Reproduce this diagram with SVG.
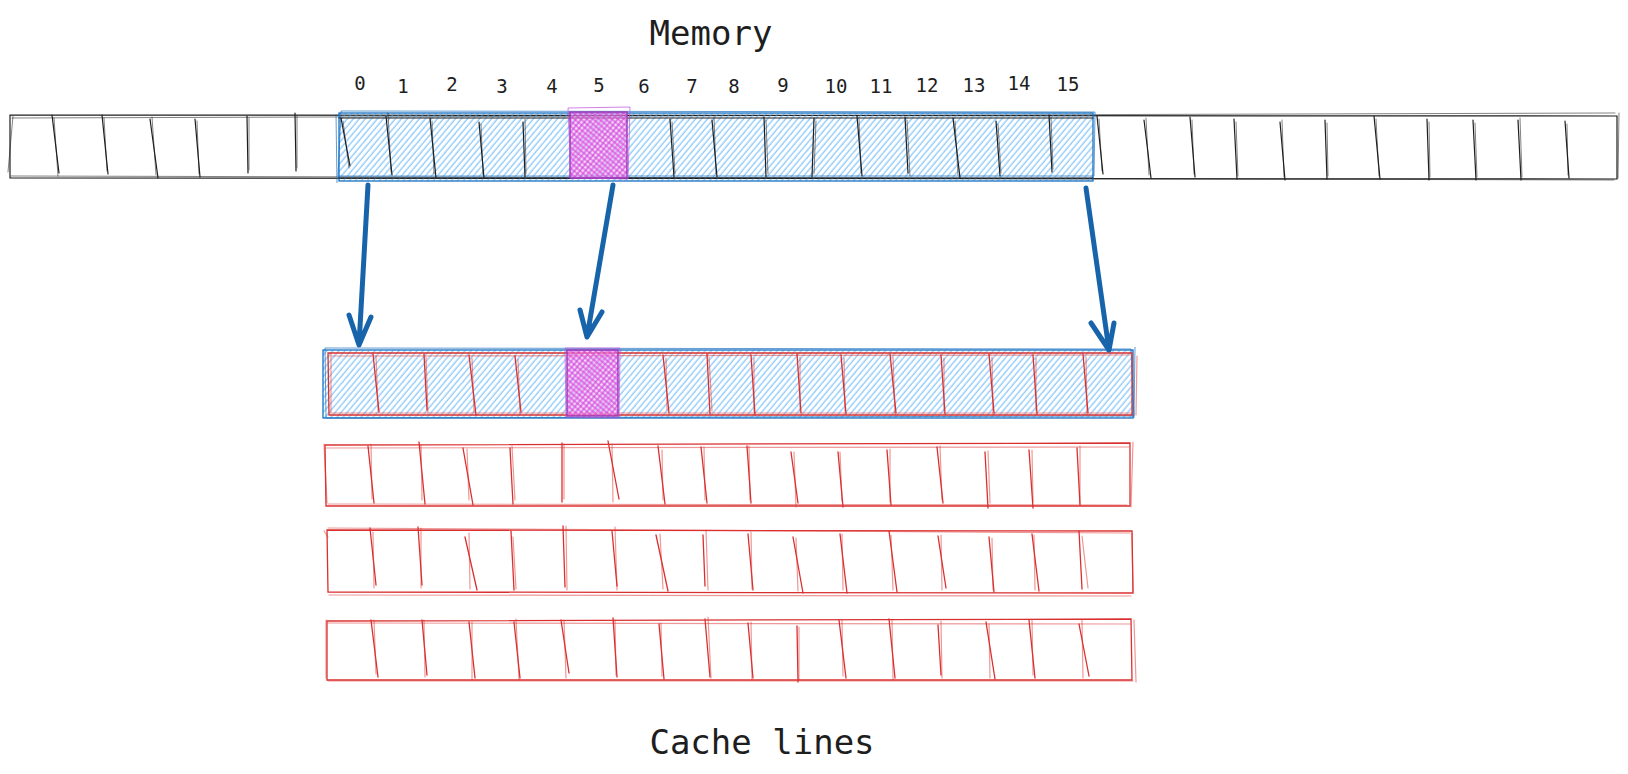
<svg xmlns="http://www.w3.org/2000/svg" width="1628" height="774" viewBox="0 0 1628 774">
<style>
.title{font-family:"DejaVu Sans Mono","Liberation Mono",monospace;font-size:34px;fill:#1e1e1e;text-anchor:middle}
.idx{font-family:"DejaVu Sans Mono","Liberation Mono",monospace;font-size:19px;fill:#1e1e1e;text-anchor:middle}
.blk{fill:none;stroke:#1e1e1e;stroke-width:1.2;stroke-linecap:round}
.blk2{fill:none;stroke:#1e1e1e;stroke-width:1;stroke-opacity:0.55;stroke-linecap:round}
.red{fill:none;stroke:#d9302f;stroke-width:1.3;stroke-linecap:round}
.red2{fill:none;stroke:#e03131;stroke-width:1.2;stroke-opacity:0.5;stroke-linecap:round}
.blue{fill:url(#hb);stroke:#1971c2;stroke-width:1.3}
.blue2{fill:none;stroke:#1971c2;stroke-width:1;stroke-opacity:0.7}
.mag{fill:url(#hm);stroke:#9c36b5;stroke-width:1.4}
.mag2{fill:none;stroke:#be4bdb;stroke-width:1;stroke-opacity:0.7}
.arrow{fill:none;stroke:#1864ab;stroke-width:5;stroke-linecap:round;stroke-linejoin:round}
</style>
<defs>
<pattern id="hb" width="4.6" height="12" patternUnits="userSpaceOnUse" patternTransform="rotate(40)">
<line x1="2" y1="0" x2="2" y2="12" stroke="#4dabf7" stroke-width="1" stroke-opacity="0.85"/>
</pattern>
<pattern id="hm" width="4" height="4" patternUnits="userSpaceOnUse" patternTransform="rotate(40)">
<rect width="4" height="4" fill="#f3b8f3" fill-opacity="0.5"/>
<line x1="2" y1="0" x2="2" y2="4" stroke="#e040e0" stroke-width="1"/>
<line x1="0" y1="2" x2="4" y2="2" stroke="#d63ad6" stroke-width="1"/>
</pattern>
</defs>
<rect width="1628" height="774" fill="#ffffff"/>

<g id="title-memory"><text class="title" x="711" y="45">Memory</text></g>
<g id="title-cache"><text class="title" x="762" y="754">Cache lines</text></g>

<g id="memory-strip">
<path class="blk" d="M10 115 L1617 116 L1617 179 L10 178 Z"/>
<path class="blk2" d="M12 118 L1615 113 M8 172 L13 116 M11 176 L1614 180 M1619 113 L1618 178"/>
<path class="blk" d="M52 115L59 173M102 115L108 174M150 119L158 178M195 119L200 177M247 116L248 173M295 113L296 171"/>
<path class="blk2" d="M54 118L58 176M104 118L107 171M152 117L156 175M197 121L199 174M249 118L249 170M297 116L297 168"/>
<path class="blk" d="M1144 120L1151 178M1190 117L1195 177M1234 119L1237 179M1280 122L1285 180M1325 120L1327 179M1374 116L1380 179M1427 119L1429 180M1473 120L1476 180M1518 120L1521 180M1565 121L1569 178"/>
<path class="blk2" d="M1146 118L1149 175M1192 120L1194 174M1236 122L1238 176M1282 120L1284 177M1327 123L1328 176M1376 119L1379 176M1429 122L1430 177M1475 123L1477 177M1520 118L1522 177M1567 124L1568 175"/>
</g>

<g id="memory-cache-line">
<rect class="blue" x="339" y="113" width="754" height="68"/>
<path class="blue2" d="M341 111 L1095 112 L1094 176 L338 176 Z M336 114 L337 183"/>
<path class="blk" d="M341 118L350 166M386 116L392 175M430 118L436 178M479 122L484 178M523 122L525 177M670 119L674 177M712 120L717 177M764 117L766 177M814 118L812 177M857 116L862 176M905 117L908 173M953 118L960 178M996 121L1000 176M1049 115L1052 172M1097 116L1103 174"/>
<path class="blk2" d="M343 121L349 168M388 113L391 172M432 121L434 174M481 124L483 175M525 119L526 174M672 122L675 174M714 117L716 174M766 120L768 174M816 121L814 174M859 119L861 173M907 120L910 176M955 121L958 175M998 124L1001 173M1051 118L1053 169M1099 119L1102 171"/>
<path class="blk" d="M339 118 L1093 118 M339 178 L1093 178"/>
</g>

<g id="memory-byte-5">
<rect class="mag" x="570" y="112" width="57" height="66"/>
<path class="mag2" d="M568 108 L630 107 L628 179 L571 178 Z"/>
</g>

<g id="labels">
<text class="idx" x="360" y="90">0</text>
<text class="idx" x="403" y="93">1</text>
<text class="idx" x="452" y="91">2</text>
<text class="idx" x="502" y="93">3</text>
<text class="idx" x="552" y="93">4</text>
<text class="idx" x="599" y="92">5</text>
<text class="idx" x="644" y="93">6</text>
<text class="idx" x="692" y="93">7</text>
<text class="idx" x="734" y="93">8</text>
<text class="idx" x="783" y="92">9</text>
<text class="idx" x="836" y="93">10</text>
<text class="idx" x="881" y="93">11</text>
<text class="idx" x="927" y="92">12</text>
<text class="idx" x="974" y="92">13</text>
<text class="idx" x="1019" y="90">14</text>
<text class="idx" x="1068" y="91">15</text>
</g>

<g id="cache-line-0">
<rect class="blue" x="323" y="350" width="810" height="68"/>
<path class="blue2" d="M325 348 L1131 349 L1134 416 L326 418 Z M1135 347 L1134 418"/>
<path class="red" d="M328 353 L1132 353 L1132 415 L329 415 Z"/>
<path class="red2" d="M330 356 L1130 355 M330 413 L1131 413 M331 354 L331 413 M1137 356 L1136 415"/>
<path class="red" d="M373 354L379 412M424 354L427 410M469 355L476 415M515 356L521 412M663 355L669 413M707 354L710 414M751 355L755 415M797 354L801 413M841 355L846 414M890 354L896 413M941 355L945 414M989 354L994 413M1033 355L1037 414M1083 354L1088 413"/>
<path class="red2" d="M376 356L378 410M426 357L428 413M472 358L474 412M518 359L520 414M666 358L667 410M709 357L712 411M754 358L754 412M800 357L800 411M844 358L845 411M893 357L895 415M944 358L944 411M992 357L993 415M1036 358L1036 411M1086 357L1087 415"/>
</g>

<g id="cache-byte-5">
<rect class="mag" x="567" y="350" width="51" height="66"/>
<path class="mag2" d="M565 348 L620 348 L619 418 L566 417 Z"/>
</g>

<g id="cache-line-1">
<path class="red" d="M325 445 L1130 443 L1130 506 L326 506 Z"/>
<path class="red2" d="M326 448 L1129 447 M328 504 L1127 505 M324 444 L327 503 M1133 442 L1131 507"/>
<path class="red" d="M368 446L374 503M419 442L425 504M463 448L473 505M510 448L513 504M562 443L562 502M608 441L619 499M658 446L665 504M701 447L707 503M747 446L751 503M791 452L798 503M838 452L843 507M887 450L891 505M937 447L943 503M985 452L988 508M1029 450L1033 508M1077 448L1080 505"/>
<path class="red2" d="M371 444L372 499M421 445L422 500M467 449L469 500M512 446L515 500M564 444L564 499M612 444L613 502M662 450L663 500M704 447L705 500M749 446L750 500M794 452L796 507M840 452L842 501M890 449L890 502M940 446L942 500M988 451L990 503M1032 450L1033 502M1080 446L1080 503"/>
</g>

<g id="cache-line-2">
<path class="red" d="M327 530 L1132 531 L1133 593 L328 592 Z"/>
<path class="red2" d="M328 528 L1130 533 M329 595 L1131 596 M324 531 L328 537 M1132 533 L1133 592"/>
<path class="red" d="M370 528L376 585M418 527L422 585M465 537L477 590M511 531L514 590M563 526L565 587M612 531L617 586M656 535L668 591M703 535L705 586M748 534L753 590M793 537L803 593M840 534L847 593M889 531L897 592M938 536L946 588M989 537L994 592M1032 534L1039 591M1079 531L1082 589"/>
<path class="red2" d="M373 532L374 588M421 528L421 588M469 533L470 589M513 537L516 589M566 526L567 590M615 527L617 590M660 534L663 589M706 530L708 590M751 532L752 589M796 538L798 591M842 534L843 590M891 535L893 590M941 535L942 590M992 538L993 590M1034 535L1035 590M1082 536L1088 588"/>
</g>

<g id="cache-line-3">
<path class="red" d="M327 621 L1131 619 L1132 680 L327 680 Z"/>
<path class="red2" d="M328 623 L1130 624 M328 681 L1133 681 M326 620 L326 678 M1134 620 L1136 682"/>
<path class="red" d="M371 620L378 677M422 620L427 675M469 622L475 678M514 622L520 678M561 620L569 673M613 618L617 677M659 624L664 679M705 619L710 677M748 623L753 678M797 626L798 682M839 620L846 678M889 619L895 678M938 625L941 675M986 622L995 679M1029 620L1035 678M1079 624L1089 676"/>
<path class="red2" d="M374 620L376 674M424 620L425 677M472 622L472 680M516 619L519 680M564 620L566 678M615 620L616 675M661 623L662 676M708 617L711 678M751 622L752 680M799 627L799 680M842 620L843 676M892 620L893 680M941 621L942 678M989 624L990 678M1032 620L1033 675M1082 620L1083 678"/>
</g>

<g id="connectors">
<path class="arrow" d="M368 185 L359 345 M349 315 L359 345 L371 317"/>
<path class="arrow" d="M613 185 L587 337 M580 310 L587 337 L602 312"/>
<path class="arrow" d="M1086 188 L1109 350 M1091 323 L1109 350 L1114 323"/>
</g>
</svg>
